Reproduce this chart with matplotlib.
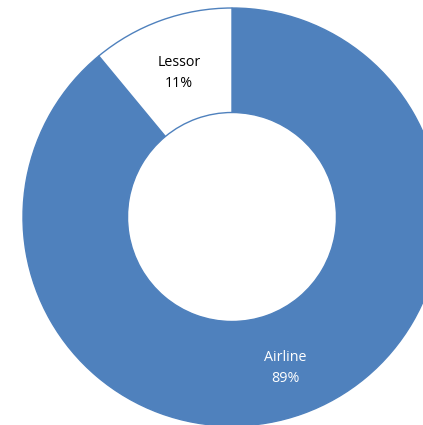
import numpy as np
import matplotlib.pyplot as plt

plt.rcParams['font.family'] = ['Open Sans', 'DejaVu Sans']

labels = ['Airline', 'Lessor']
shares = [89, 11]
face_colors = ['#4F81BD', '#FFFFFF']
text_colors = ['white', 'black']

fig = plt.figure(figsize=(4.23, 4.25), dpi=100)
ax = fig.add_axes([0, 0, 1, 1])

# donut, Airline first clockwise from 12 o'clock
wedges, _ = ax.pie(shares, colors=face_colors, startangle=90, counterclock=False,
                   radius=1.0, wedgeprops=dict(width=0.5, edgecolor='#4F81BD', linewidth=1))

for w, lab, val, tc in zip(wedges, labels, shares, text_colors):
    mid = np.deg2rad((w.theta1 + w.theta2) / 2)
    r = 0.75
    ax.text(r * np.cos(mid), r * np.sin(mid) - 0.015, f'{lab}\n{val}%', ha='center', va='center',
            fontsize=10.3, color=tc, linespacing=1.55)

# chart runs off the right and bottom edge like the original
ax.set_xlim(-232 / 209, (423 - 232) / 209)
ax.set_ylim(-(425 - 217) / 209, 217 / 209)
ax.set_aspect('equal')
ax.axis('off')

fig.savefig('out.png', dpi=100)
